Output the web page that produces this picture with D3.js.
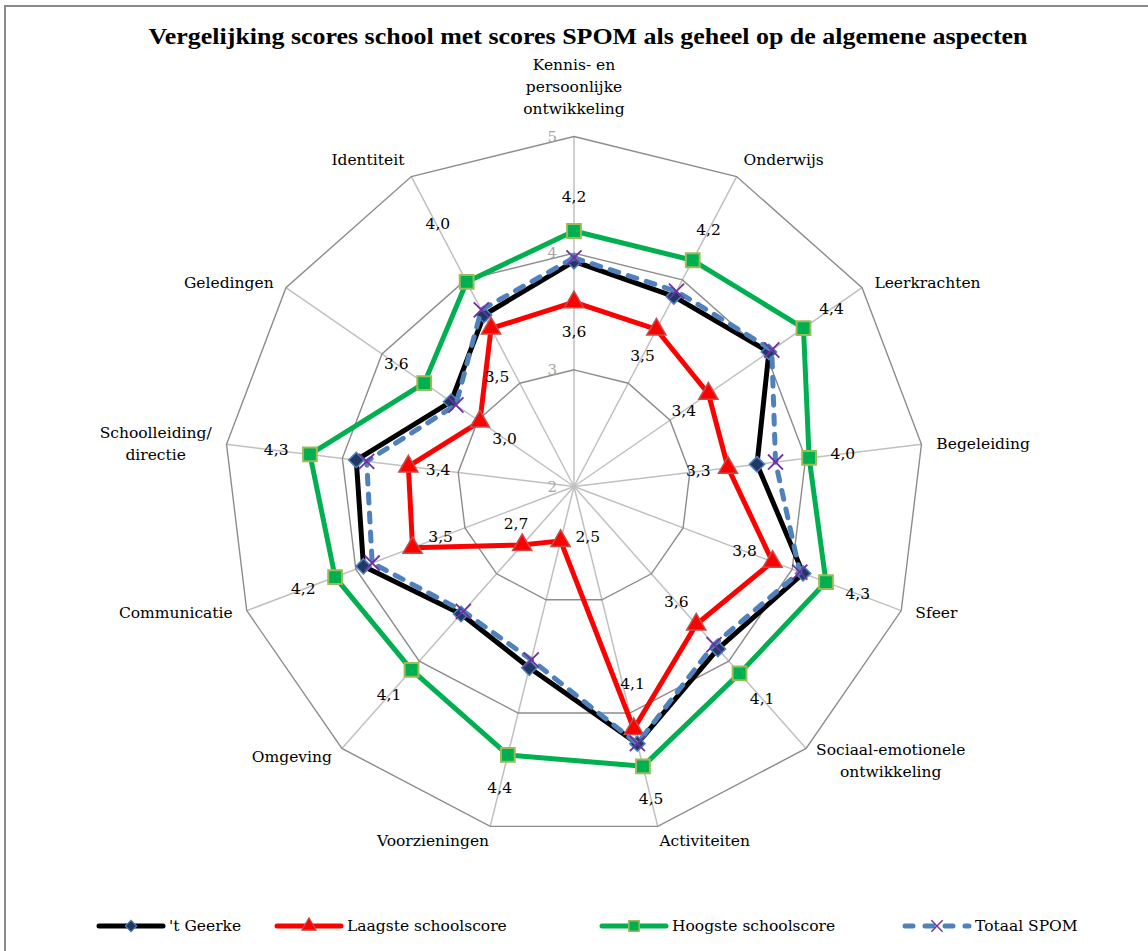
<!DOCTYPE html>
<html lang="nl">
<head>
<meta charset="UTF-8" />
<title>Vergelijking scores school met scores SPOM</title>
<script src="https://d3js.org/d3.v7.min.js"></script>
<style>
  body { margin: 0; background: #fff; }
  svg { display: block; font-family: "DejaVu Serif", "Liberation Serif", serif; }
  .axis-label { font-size: 15.5px; fill: #000; }
  .tick-label { font-size: 15px; fill: #a6a6a6; }
  .value-label { font-size: 15.5px; fill: #000; }
  .legend text { font-size: 15.5px; fill: #000; }
</style>
</head>
<body>
<svg id="chart" width="1148" height="951"></svg>
<script>
// categories (axis order, clockwise from top)
const categories = [
  ["Kennis- en", "persoonlijke", "ontwikkeling"],
  ["Onderwijs"],
  ["Leerkrachten"],
  ["Begeleiding"],
  ["Sfeer"],
  ["Sociaal-emotionele", "ontwikkeling"],
  ["Activiteiten"],
  ["Voorzieningen"],
  ["Omgeving"],
  ["Communicatie"],
  ["Schoolleiding/", "directie"],
  ["Geledingen"],
  ["Identiteit"]
];

const geerke  = [3.93, 3.84, 4.03, 3.58, 4.10, 3.86, 4.27, 3.60, 3.46, 3.93, 3.88, 3.28, 3.66];
const laagste = [3.58, 3.52, 3.40, 3.33, 3.82, 3.58, 4.14, 2.48, 2.67, 3.48, 3.43, 2.98, 3.53];
const hoogste = [4.19, 4.19, 4.39, 4.03, 4.31, 4.14, 4.47, 4.37, 4.10, 4.19, 4.28, 3.56, 3.98];
const spom    = [3.96, 3.89, 4.06, 3.74, 4.07, 3.81, 4.27, 3.53, 3.43, 3.85, 3.79, 3.23, 3.71];

const seriesNames = ["'t Geerke", "Laagste schoolscore", "Hoogste schoolscore", "Totaal SPOM"];
const ticks = [2, 3, 4, 5];

const svg = d3.select("#chart");
const cx = 574, cy = 486.5, R = 350;
const n = categories.length;

const r = d3.scaleLinear().domain([2, 5]).range([0, R]);
const ang = d3.scaleLinear().domain([0, n]).range([0, 2 * Math.PI]);
const pt = (i, v) => [cx + r(v) * Math.sin(ang(i)), cy - r(v) * Math.cos(ang(i))];

const nl = d3.formatLocale({decimal: ",", thousands: ".", grouping: [3], currency: ["€", ""]});
const fmt = nl.format(".1f");

// chart frame
svg.append("rect")
  .attr("x", 5).attr("y", 6).attr("width", 1160).attr("height", 960)
  .attr("fill", "none").attr("stroke", "#8c8c8c").attr("stroke-width", 2);

// title
svg.append("text")
  .attr("x", 588).attr("y", 44)
  .attr("text-anchor", "middle")
  .style("font-family", "'Liberation Serif', serif")
  .style("font-weight", "bold")
  .style("font-size", "24px")
  .attr("textLength", 879).attr("lengthAdjust", "spacingAndGlyphs")
  .text("Vergelijking scores school met scores SPOM als geheel op de algemene aspecten");

// grid
const grid = svg.append("g");
grid.selectAll("line.spoke")
  .data(categories)
  .join("line")
  .attr("class", "spoke")
  .attr("x1", cx).attr("y1", cy)
  .attr("x2", (d, i) => pt(i, 5)[0])
  .attr("y2", (d, i) => pt(i, 5)[1])
  .attr("stroke", "#c0c0c0").attr("stroke-width", 1.5);

grid.selectAll("path.ring")
  .data(ticks.slice(1))
  .join("path")
  .attr("class", "ring")
  .attr("d", t => d3.line()(categories.map((c, i) => pt(i, t))) + "Z")
  .attr("fill", "none").attr("stroke", "#8c8c8c").attr("stroke-width", 1.4);

grid.selectAll("text.tick-label")
  .data(ticks)
  .join("text")
  .attr("class", "tick-label")
  .attr("x", cx - 17)
  .attr("y", t => cy - r(t) + 5)
  .attr("text-anchor", "end")
  .text(t => t);

// axis labels
const lineH = 22;
categories.forEach((lines, i) => {
  const s = Math.sin(ang(i)), c = Math.cos(ang(i));
  const px = cx + (R + 15) * s, py = cy - (R + 5) * c;
  const g = svg.append("g");
  const t = g.append("text").attr("class", "axis-label").attr("text-anchor", "middle");
  lines.forEach((ln, k) => t.append("tspan").attr("x", 0).attr("y", k * lineH).text(ln));
  const w = d3.max(t.selectAll("tspan").nodes(), nd => nd.getComputedTextLength());
  const h = lines.length * lineH;
  const kx = Math.max(-1, Math.min(1, 4 * s));
  const bx = px + kx * w / 2;
  const by = py - Math.pow(c, 3) * h / 2 - Math.pow(Math.max(0, c), 8) * 12;
  g.attr("transform", `translate(${bx},${by - h / 2 + lineH / 2 + 5})`);
});

// series
const symDiamond = d3.symbol().type(d3.symbolDiamond2).size(150);
const symTri = d3.symbol().type(d3.symbolTriangle).size(160);
const symSquare = d3.symbol().type(d3.symbolSquare).size(190);
const symX = d3.symbol().type(d3.symbolX).size(150);

const series = [
  {values: geerke,  stroke: "#000000", dash: null, sym: symDiamond, fill: "#1f3864", mstroke: "#4f81bd", mw: 1.5},
  {values: laagste, stroke: "#ff0000", dash: null, sym: symTri, fill: "#ff0000", mstroke: "#c0504d", mw: 1.5},
  {values: hoogste, stroke: "#00b050", dash: null, sym: symSquare, fill: "#00b050", mstroke: "#9bbb59", mw: 2},
  {values: spom,    stroke: "#4f81bd", dash: "9,10", sym: symX, fill: "none", mstroke: "#7030a0", mw: 1.8}
];

const lineGen = d3.line();
series.forEach(sr => {
  const g = svg.append("g");
  g.append("path")
    .attr("d", lineGen(sr.values.map((v, i) => pt(i, v))) + "Z")
    .attr("fill", "none")
    .attr("stroke", sr.stroke)
    .attr("stroke-width", 5)
    .attr("stroke-linejoin", "round")
    .attr("stroke-linecap", sr.dash ? "round" : "butt")
    .attr("stroke-dasharray", sr.dash);
  g.selectAll("path.marker")
    .data(sr.values)
    .join("path")
    .attr("class", "marker")
    .attr("transform", (v, i) => `translate(${pt(i, v)})`)
    .attr("d", sr.sym)
    .attr("fill", sr.fill)
    .attr("stroke", sr.mstroke)
    .attr("stroke-width", sr.mw);
});

// value labels: lowest (inside) and highest (outside); a few were moved by hand in the original
const labelSets = [
  {values: laagste, shift: -30, nudge: {6: [6, -16], 7: [20, 25], 8: [-26, 1], 12: [-8, 22]}},
  {values: hoogste, shift: 34, nudge: {12: [-13, -28]}}
];
labelSets.forEach(ls => {
  const nd = i => ls.nudge[i] || [0, 0];
  svg.append("g").selectAll("text")
    .data(ls.values)
    .join("text")
    .attr("class", "value-label")
    .attr("text-anchor", "middle")
    .attr("x", (v, i) => cx + (r(v) + ls.shift) * Math.sin(ang(i)) + nd(i)[0])
    .attr("y", (v, i) => cy - (r(v) + ls.shift) * Math.cos(ang(i)) + 5 + nd(i)[1])
    .text(v => fmt(v));
});

// legend
const legendX = [97, 275, 600, 903];
const legendY = 926;
const legend = svg.append("g").attr("class", "legend");
series.forEach((sr, k) => {
  const g = legend.append("g").attr("transform", `translate(${legendX[k]},${legendY})`);
  g.append("line")
    .attr("x1", 2).attr("x2", 66)
    .attr("stroke", sr.stroke).attr("stroke-width", 5)
    .attr("stroke-linecap", "round")
    .attr("stroke-dasharray", sr.dash ? "8,12" : null);
  g.append("path")
    .attr("transform", "translate(34,0) scale(0.75)")
    .attr("d", sr.sym)
    .attr("fill", sr.fill)
    .attr("stroke", sr.mstroke)
    .attr("stroke-width", sr.mw);
  g.append("text")
    .attr("x", 72).attr("y", 5)
    .text(seriesNames[k]);
});
</script>
</body>
</html>
